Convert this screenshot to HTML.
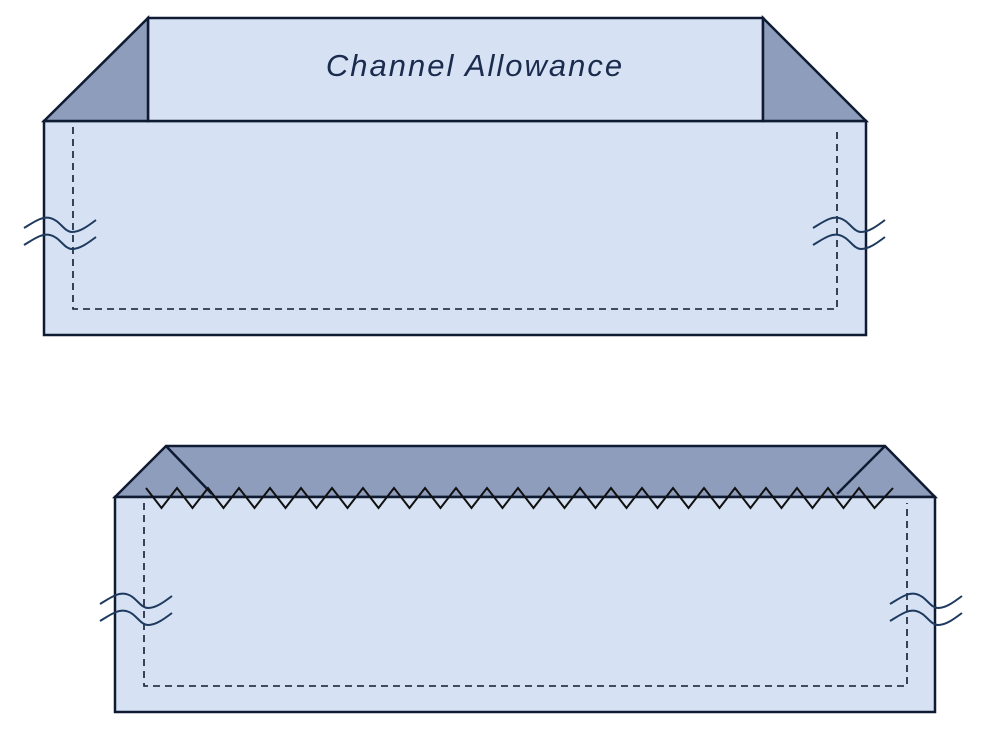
<!DOCTYPE html>
<html><head><style>body{margin:0;background:#fff}svg{display:block}</style></head><body>
<svg width="986" height="732" viewBox="0 0 986 732" xmlns="http://www.w3.org/2000/svg">
<defs>
<g id="sq" fill="none" stroke="#1f3a5f" stroke-width="2">
<path d="M0,12 C10,6 18,0 26,2 C36,4 40,16 48,16 C56,16 64,10 72,4"/>
<path d="M0,29 C10,23 18,17 26,19 C36,21 40,33 48,33 C56,33 64,27 72,21"/>
</g>
</defs>
<g stroke="#0f1b33" stroke-width="2.5" stroke-linejoin="miter">
<rect x="44" y="121" width="822" height="214" fill="#d6e2f3"/>
<rect x="148" y="18" width="615" height="103" fill="#d6e2f3"/>
<polygon points="44,121 148,18 148,121" fill="#8f9dbd"/>
<polygon points="763,18 866,121 763,121" fill="#8f9dbd"/>
</g>
<path d="M148,121 H763 M73,127 V309 H837 V127" fill="none" stroke="#0f1b33" stroke-width="1.6" stroke-dasharray="7,5"/>
<text x="475" y="76" text-anchor="middle" font-family="'Comic Sans MS','Liberation Sans',sans-serif" font-style="italic" font-size="31" letter-spacing="2" fill="#1a2b4d">Channel Allowance</text>
<use href="#sq" x="24" y="216"/>
<use href="#sq" x="813" y="216"/>

<g stroke="#0f1b33" stroke-width="2.5">
<polygon points="115,497 166,446 885,446 935,497" fill="#8f9dbd"/>
<rect x="115" y="497" width="820" height="215" fill="#d6e2f3"/>
<line x1="166" y1="446" x2="212" y2="494"/>
<line x1="885" y1="446" x2="837" y2="494"/>
</g>
<path d="M144,503 V686 H907 V503" fill="none" stroke="#0f1b33" stroke-width="1.6" stroke-dasharray="7,5"/>
<polyline fill="none" stroke="#111" stroke-width="2" points="146,488 161.5,508 177,488 192.5,508 208,488 223.5,508 239,488 254.5,508 270,488 285.5,508 301,488 316.5,508 332,488 347.5,508 363,488 378.5,508 394,488 409.5,508 425,488 440.5,508 456,488 471.5,508 487,488 502.5,508 518,488 533.5,508 549,488 564.5,508 580,488 595.5,508 611,488 626.5,508 642,488 657.5,508 673,488 688.5,508 704,488 719.5,508 735,488 750.5,508 766,488 781.5,508 797,488 812.5,508 828,488 843.5,508 859,488 874.5,508 893,488"/>
<use href="#sq" x="100" y="592"/>
<use href="#sq" x="890" y="592"/>
</svg>
</body></html>
